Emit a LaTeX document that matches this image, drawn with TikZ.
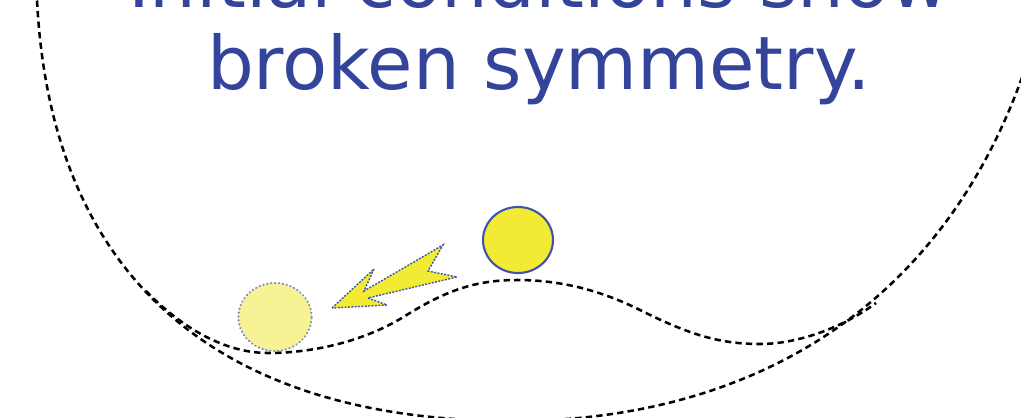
\documentclass[tikz,border=0pt]{standalone}
\usepackage{fontspec}
\setmainfont{DejaVu Sans}
\usetikzlibrary{shapes.geometric}
\definecolor{slideblue}  {RGB}{51,68,154}
\definecolor{ballyellow} {RGB}{243,234,51}
\definecolor{ballblue}   {RGB}{63,84,170}
\definecolor{ghostyellow}{RGB}{247,242,148}
\definecolor{ghostblue}  {RGB}{128,138,200}

\begin{document}
\begin{tikzpicture}[
    x=0.025cm,y=-0.025cm,
    title/.style={font=\fontsize{52.5}{56}\selectfont,text=slideblue,
                  inner sep=0pt,anchor=base},
    curve/.style={black,line width=1.8pt,dash pattern=on 4.5pt off 3pt},
    ball/.style={ellipse,draw=ballblue,line width=1.5pt,fill=ballyellow,
                 minimum width=1.75cm,minimum height=1.65cm,inner sep=0pt},
    ghost/.style={ellipse,draw=ghostblue,line width=1.5pt,line cap=round,
                  dash pattern=on 0.3pt off 2.5pt,fill=ghostyellow,
                  minimum width=1.83cm,minimum height=1.7cm,inner sep=0pt},
    swoosh/.style={fill=ballyellow,draw=ballblue,line width=1pt,
                   dash pattern=on 1.4pt off 1pt},
  ]
  \useasboundingbox (0,0) rectangle (1021,417);
  \clip (0,0) rectangle (1021,417);

  %% Title
  \node[title] (line1) at (539,7.5) {Initial conditions show};
  \node[title] (line2) at (539,89.5) {broken symmetry.};

  %% Bowl
  \draw[curve] (36,-10) -- (37,0)
    .. controls (52,300) and (243,421) .. (513,421)
    .. controls (733,421) and (931,323) .. (1020,83) -- (1033,48);

  %% Double-well potential
  \draw[curve] (146,291)
    .. controls (182,328) and (225,353) .. (268,353)
    .. controls (320,353) and (370,338) .. (405,316)
    .. controls (445,291) and (475,280) .. (517,280)
    .. controls (560,280) and (600,290) .. (640,310)
    .. controls (690,335) and (720,344) .. (760,344)
    .. controls (800,344) and (845,326) .. (876,303);

  %% Balls
  \node[ghost] (after) at (275,317) {};
  \node[ball] (before) at (518,240) {};

  %% Roll direction
  \draw[swoosh] (332,308) -- (374,269) -- (364,291) -- (443,245)
    -- (428,271) -- (457,277) -- (368,298) -- (387,305) -- cycle;
\end{tikzpicture}
\end{document}
